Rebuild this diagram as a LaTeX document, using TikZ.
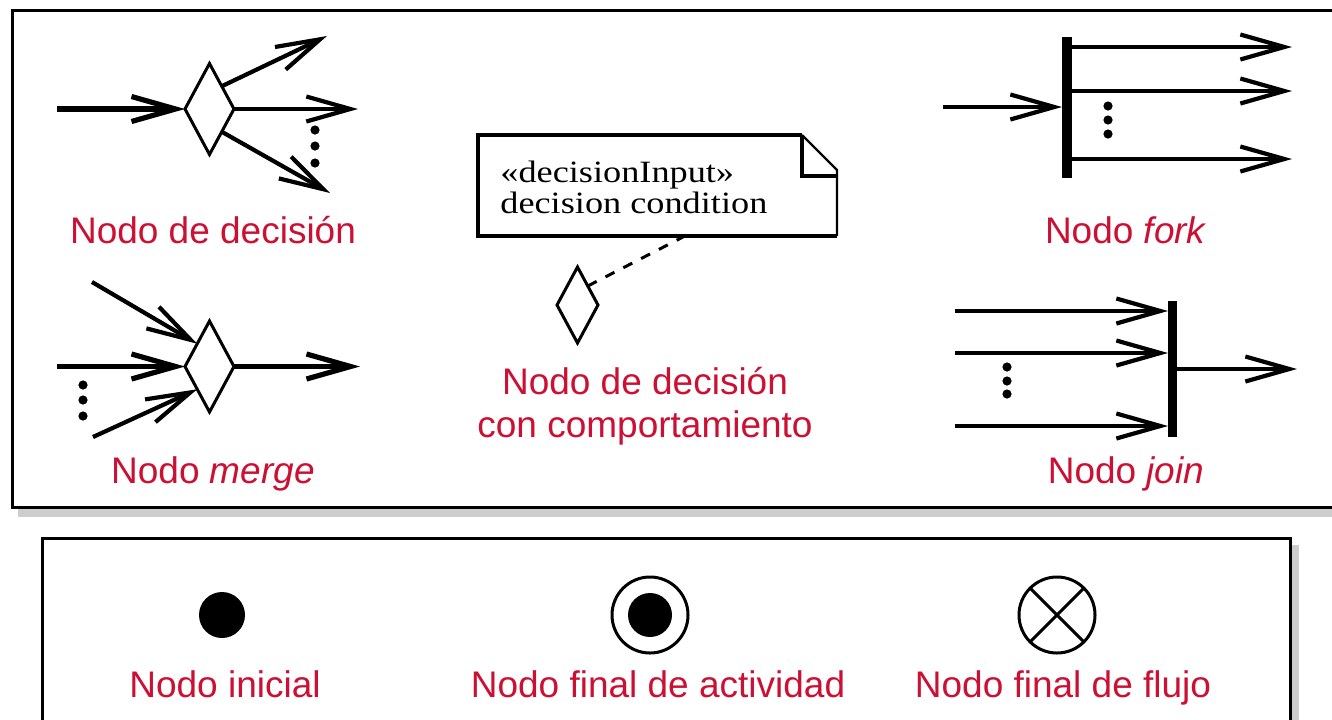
\documentclass[tikz,border=0pt]{standalone}
\usepackage{fontspec}
\setmainfont{Liberation Sans}
\newfontfamily\notefont{Liberation Serif}
\usetikzlibrary{arrows.meta,shapes.geometric}
\definecolor{lblR}{RGB}{204,16,52}
\definecolor{shadowG}{RGB}{205,205,205}

\begin{document}
\begin{tikzpicture}[x=0.5pt,y=-0.5pt,>={Straight Barb[length=22pt,width=12.5pt]},
  flow/.style={->,line width=2.1pt},
  dec/.style={diamond,draw,line width=1.5pt,inner sep=0pt,outer sep=0pt,minimum width=24.5pt,minimum height=45.5pt},
  bar/.style={rectangle,fill=black,inner sep=0pt,outer sep=0pt},
  lbl/.style={anchor=base,text=lblR,font=\fontsize{18.5}{22}\selectfont},
  notetxt/.style={anchor=north west,inner sep=0pt,align=left,font=\notefont\fontsize{15.5}{11}\selectfont},
  boxline/.style={line width=1.5pt}]
\useasboundingbox (0,0) rectangle (1332,719);
% frames with shadow
\fill[shadowG] (18,508.5) rectangle (1345,517);
\draw[boxline] (12,10) rectangle (1345,507);
\fill[shadowG] (1291.5,545) rectangle (1299,730);
\draw[boxline] (42,538) rectangle (1290,730);

% decision node
\node[dec] (dec) at (209.5,109) {};
\coordinate (decin) at (57,109);
\coordinate (decup) at (327,36);
\coordinate (decmid) at (358,109);
\coordinate (declow) at (330,193);
\draw[flow,line width=2.6pt] (decin) -- (dec.west);
\draw[flow] (dec.north east) -- (decup);
\draw[flow] (dec.east) -- (decmid);
\draw[flow] (dec.south east) -- (declow);
\foreach \y in {130,146,163} \fill (315,\y) circle (2.3pt);
\node[lbl] (declbl) at (213,243) {Nodo de decisión};

% merge node
\node[dec] (mrg) at (209.5,366.5) {};
\coordinate (mrgup) at (92,282);
\coordinate (mrgmid) at (57,366.5);
\coordinate (mrglow) at (93,437);
\coordinate (mrgout) at (360,366.5);
\draw[flow] (mrgup) -- (mrg.north west);
\draw[flow,line width=2.6pt] (mrgmid) -- (mrg.west);
\draw[flow] (mrglow) -- (mrg.south west);
\draw[flow,line width=2.6pt] (mrg.east) -- (mrgout);
\foreach \y in {385,400,416} \fill (83,\y) circle (2.3pt);
\node[lbl] (mrglbl) at (213,483) {Nodo \textit{merge}};

% decision with behaviour, note
\draw[line width=2pt] (802,135) -- (478,135) -- (478,236) -- (837,236);
\draw[line width=1.2pt] (837,236) -- (837,170) -- (802,135);
\draw[line width=2pt] (802,135) -- (802,176) -- (837,176);
\node[notetxt] (note) at (500,161) {\scalebox{1.17}[1]{«decisionInput»}\\\scalebox{1.17}[1]{decision condition}};
\coordinate (notefoot) at (683,237);
\node[dec,minimum width=20.5pt,minimum height=38pt] (sdec) at (577.5,305) {};
\draw[line width=1.5pt,dash pattern=on 5pt off 5pt] (sdec.north east) -- (notefoot);
\node[lbl] (sdeclbl1) at (645,394) {Nodo de decisión};
\node[lbl] (sdeclbl2) at (645,437) {con comportamiento};

% fork
\node[bar,minimum width=5pt,minimum height=70.5pt] (fork) at (1067,107.5) {};
\coordinate (forkin) at (943,107);
\coordinate (fork1) at (1292,47);
\coordinate (fork2) at (1292,91);
\coordinate (fork3) at (1292,159);
\draw[flow] (forkin) -- (fork.west |- forkin);
\foreach \t in {fork1,fork2,fork3} \draw[flow] (fork.east |- \t) -- (\t);
\foreach \y in {106,120,134} \fill (1108,\y) circle (2.3pt);
\node[lbl] (forklbl) at (1126,243) {Nodo \textit{fork}};

% join
\node[bar,minimum width=4.5pt,minimum height=68pt] (join) at (1172.5,369) {};
\coordinate (join1) at (955,311);
\coordinate (join2) at (955,353);
\coordinate (join3) at (955,426);
\coordinate (joinout) at (1297,369);
\foreach \s in {join1,join2,join3} \draw[flow] (\s) -- (join.west |- \s);
\draw[flow] (join.east) -- (joinout);
\foreach \y in {367,381,394} \fill (1007,\y) circle (2.3pt);
\node[lbl] (joinlbl) at (1126,483) {Nodo \textit{join}};

% initial and final nodes
\node[circle,fill=black,inner sep=0pt,minimum size=23pt] (ini) at (222,615) {};
\node[lbl] (inilbl) at (225,697) {Nodo inicial};
\node[circle,draw,line width=1.5pt,inner sep=0pt,outer sep=0pt,minimum size=38pt,
  path picture={\fill (path picture bounding box.center) circle (11pt);}] (actfin) at (650,615) {};
\node[lbl] (actfinlbl) at (658,697) {Nodo final de actividad};
\node[circle,draw,line width=1.5pt,inner sep=0pt,outer sep=0pt,minimum size=38pt] (flowfin) at (1057,615) {};
\draw[line width=1.5pt] (flowfin.north east) -- (flowfin.south west);
\draw[line width=1.5pt] (flowfin.north west) -- (flowfin.south east);
\node[lbl] (flowfinlbl) at (1063,697) {Nodo final de flujo};
\end{tikzpicture}
\end{document}
